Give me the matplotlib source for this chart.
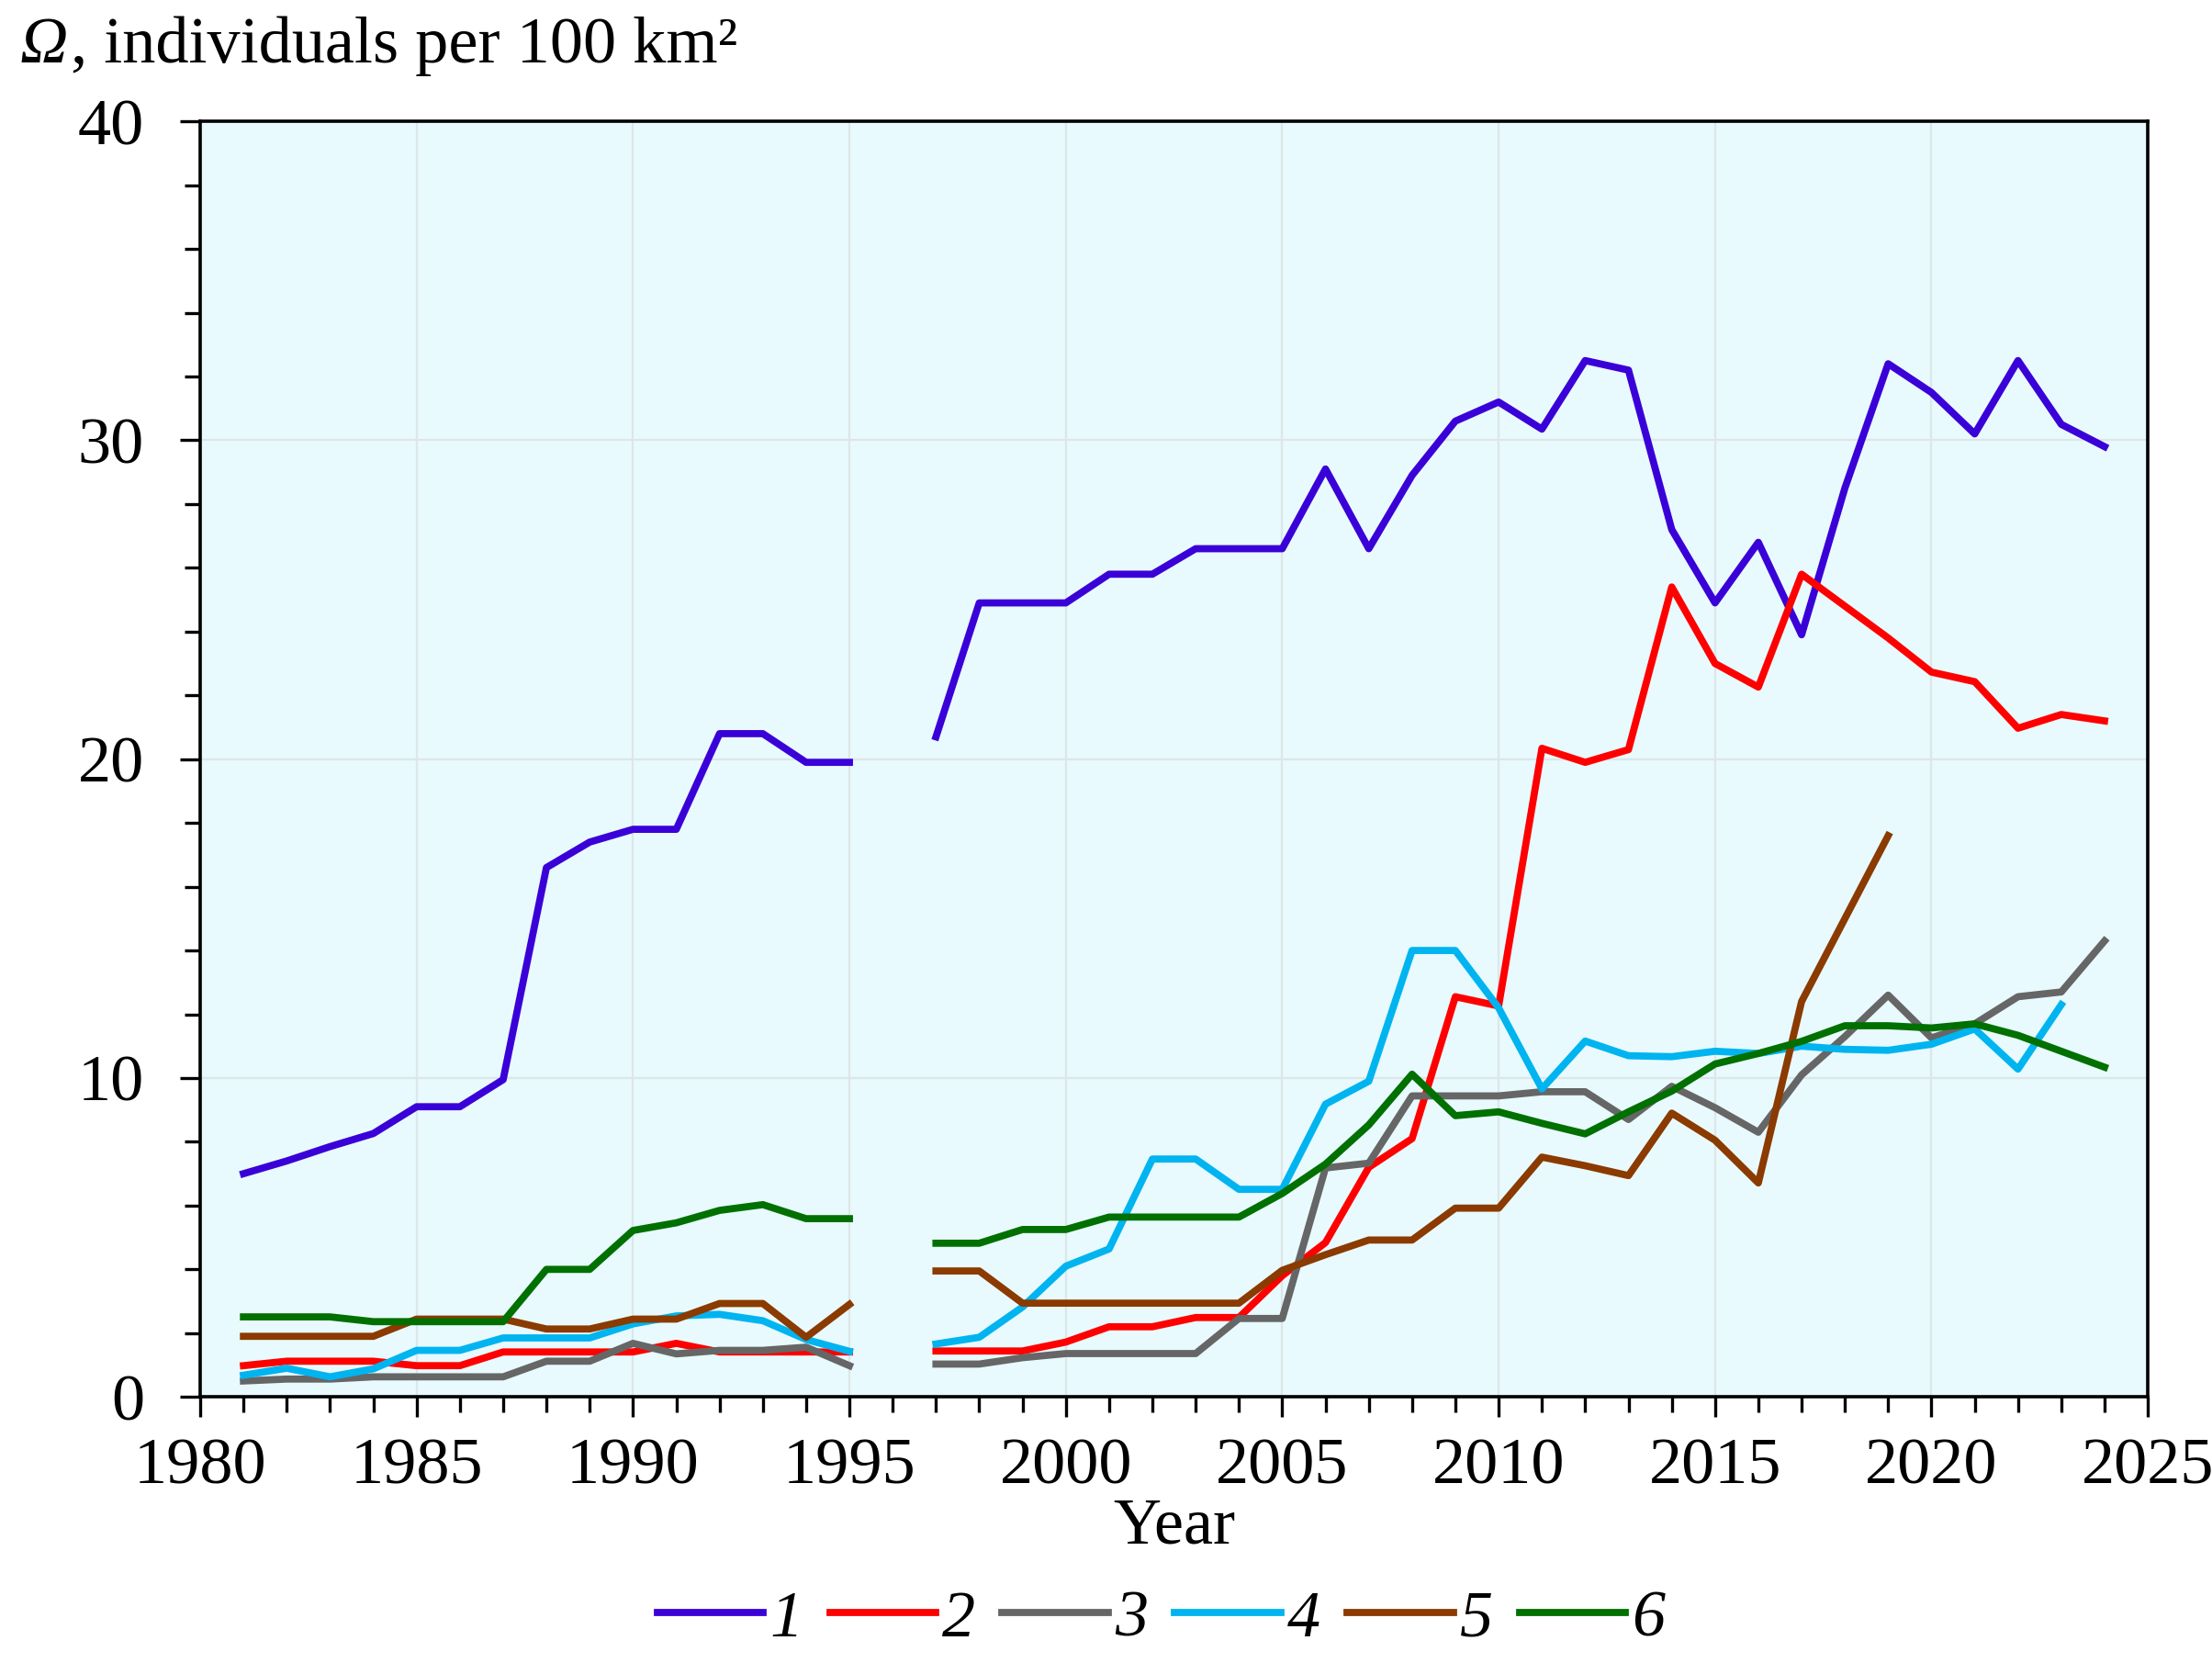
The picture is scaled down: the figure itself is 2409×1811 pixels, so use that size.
import numpy as np
import matplotlib
matplotlib.use('Agg')
import matplotlib.pyplot as plt
from matplotlib.ticker import MultipleLocator

plt.rcParams['font.family'] = ['Liberation Serif', 'DejaVu Serif']

#%% data (nan = no survey in 1996 / series ended)
years = np.arange(1981, 2025)

s1 = [7.0, 7.4, 7.85, 8.26, 9.1, 9.1, 9.95, 16.6, 17.4, 17.8, 17.8, 20.8, 20.8, 19.9, 19.9,
      np.nan,
      20.7, 24.9, 24.9, 24.9, 25.8, 25.8, 26.6, 26.6, 26.6, 29.1, 26.6, 28.9, 30.6, 31.2,
      30.35, 32.5, 32.2, 27.2, 24.9, 26.8, 23.9, 28.5, 32.4, 31.5, 30.2, 32.5, 30.5, 29.8]
s2 = [0.98, 1.12, 1.12, 1.12, 0.98, 0.98, 1.41, 1.41, 1.41, 1.41, 1.68, 1.41, 1.41, 1.41, 1.41,
      np.nan,
      1.44, 1.44, 1.44, 1.72, 2.2, 2.2, 2.49, 2.49, 3.8, 4.84, 7.2, 8.1, 12.55, 12.26,
      20.34, 19.9, 20.3, 25.4, 23.0, 22.26, 25.8, 24.8, 23.8, 22.73, 22.43, 20.97, 21.4, 21.2]
s3 = [0.5, 0.56, 0.56, 0.63, 0.63, 0.63, 0.63, 1.12, 1.12, 1.68, 1.35, 1.46, 1.46, 1.56, 0.98,
      np.nan,
      1.03, 1.03, 1.23, 1.36, 1.36, 1.36, 1.36, 2.46, 2.46, 7.18, 7.33, 9.44, 9.44, 9.44,
      9.57, 9.57, 8.7, 9.74, 9.07, 8.3, 10.1, 11.3, 12.6, 11.26, 11.7, 12.55, 12.7, 14.3]
s4 = [0.68, 0.9, 0.63, 0.88, 1.46, 1.46, 1.85, 1.85, 1.85, 2.29, 2.54, 2.59, 2.39, 1.8, 1.43,
      np.nan,
      1.66, 1.87, 2.82, 4.1, 4.64, 7.46, 7.46, 6.51, 6.51, 9.18, 9.9, 14.0, 14.0, 12.2,
      9.66, 11.16, 10.7, 10.67, 10.84, 10.77, 11.0, 10.9, 10.87, 11.06, 11.54, 10.28, 12.3, np.nan]
s5 = [1.9, 1.9, 1.9, 1.9, 2.44, 2.44, 2.44, 2.13, 2.13, 2.44, 2.44, 2.93, 2.93, 1.87, 2.9,
      np.nan,
      3.95, 3.95, 2.94, 2.94, 2.94, 2.94, 2.94, 2.94, 3.97, 4.46, 4.92, 4.92, 5.92, 5.92,
      7.52, 7.25, 6.94, 8.9, 8.05, 6.71, 12.4, 15.0, 17.6, np.nan, np.nan, np.nan, np.nan, np.nan]
s6 = [2.51, 2.51, 2.51, 2.36, 2.36, 2.36, 2.36, 4.0, 4.0, 5.22, 5.46, 5.85, 6.03, 5.59, 5.59,
      np.nan,
      4.82, 4.82, 5.25, 5.25, 5.64, 5.64, 5.64, 5.64, 6.38, 7.3, 8.53, 10.12, 8.82, 8.94,
      8.58, 8.25, 8.94, 9.59, 10.44, 10.77, 11.15, 11.64, 11.64, 11.57, 11.7, 11.34, 10.84, 10.34]

series = [s1, s2, s3, s4, s5, s6]
labels = ['1', '2', '3', '4', '5', '6']
colors = ['#3a00d8', '#ff0000', '#666666', '#00b4f0', '#8b3a00', '#007000']

#%%
fig = plt.figure(figsize=(12.045, 9.055), dpi=200)
ax = fig.add_axes([0.0905, 0.160, 0.8805, 0.767])
ax.set_facecolor('#e8fafd')

for s, lab, c in zip(series, labels, colors):
    ax.plot(years, s, color=c, lw=2.8, label=lab)

ax.set_xlim(1980, 2025)
ax.set_ylim(0, 40)
ax.xaxis.set_major_locator(MultipleLocator(5))
ax.xaxis.set_minor_locator(MultipleLocator(1))
ax.yaxis.set_major_locator(MultipleLocator(10))
ax.yaxis.set_minor_locator(MultipleLocator(2))
ax.grid(True, which='major', color='#dde6e8', lw=0.8)
ax.set_axisbelow(True)

ax.tick_params(axis='both', which='major', direction='out', length=8, width=1.2,
               labelsize=26)
ax.tick_params(axis='both', which='minor', direction='out', length=6, width=1.2)
ax.tick_params(axis='y', which='major', pad=14)
ax.tick_params(axis='x', which='major', pad=8)
for sp in ax.spines.values():
    sp.set_linewidth(1.3)

ax.set_xlabel('Year', fontsize=26, labelpad=0)

# y-axis title at top left: italic Omega, then upright rest
om = fig.text(0.009, 0.972, 'Ω', fontsize=26, style='italic', ha='left', va='center')
ax.annotate(', individuals per 100 km²', xy=(1, 0.5), xycoords=om,
            xytext=(1, 0), textcoords='offset points',
            fontsize=26, ha='left', va='center', annotation_clip=False)

leg = fig.legend(loc='center', bbox_to_anchor=(0.525, 0.026), ncol=6, frameon=False,
                 handlelength=1.6, handletextpad=0.1, columnspacing=0.4,
                 prop={'size': 26, 'style': 'italic'})

plt.savefig('out.png', dpi=200)
